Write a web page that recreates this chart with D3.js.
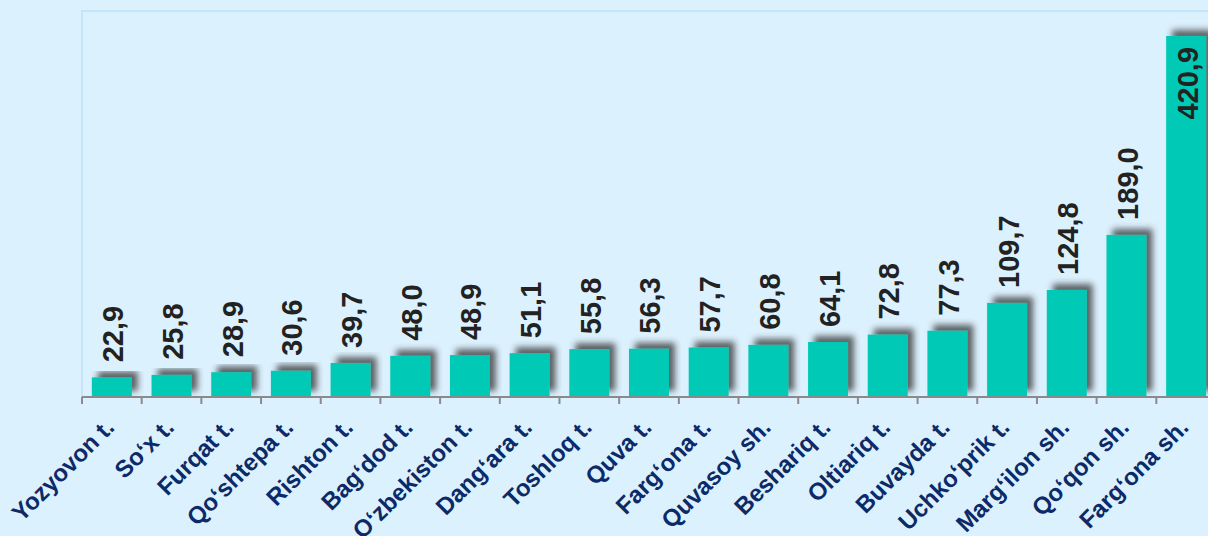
<!DOCTYPE html>
<html>
<head>
<meta charset="utf-8">
<script src="https://cdn.jsdelivr.net/npm/d3@7"></script>
<style>
  body { margin: 0; background: #dcf1fe; }
  svg { display: block; font-family: "Liberation Sans", Arial, sans-serif; }
</style>
</head>
<body>
<div id="chart"></div>
<script>
// data
var categories = ['Yozyovon t.', 'So‘x t.', 'Furqat t.', 'Qo‘shtepa t.', 'Rishton t.', 'Bag‘dod t.',
  'O‘zbekiston t.', 'Dang‘ara t.', 'Toshloq t.', 'Quva t.', 'Farg‘ona t.', 'Quvasoy sh.',
  'Beshariq t.', 'Oltiariq t.', 'Buvayda t.', 'Uchko‘prik t.', 'Marg‘ilon sh.', 'Qo‘qon sh.', 'Farg‘ona sh.'];
var values = [22.9, 25.8, 28.9, 30.6, 39.7, 48.0, 48.9, 51.1, 55.8, 56.3, 57.7, 60.8, 64.1, 72.8, 77.3, 109.7, 124.8, 189.0, 420.9];
var yMax = 450;

var W = 1208, H = 536;
var margin = {top: 11, left: 82, bottom: 139};
var plotRight = 1216;

var fmt = function(v) { return v.toFixed(1).replace('.', ','); };

var x = d3.scaleBand()
  .domain(categories)
  .range([margin.left, plotRight])
  .paddingInner(0.33)
  .paddingOuter(0.165);

var y = d3.scaleLinear()
  .domain([0, yMax])
  .range([H - margin.bottom, margin.top]);

var svg = d3.select('#chart').append('svg')
  .attr('width', W)
  .attr('height', H);

var defs = svg.append('defs');
var f = defs.append('filter').attr('id', 'shadow')
  .attr('x', '-30%').attr('y', '-30%').attr('width', '160%').attr('height', '160%');
f.append('feDropShadow')
  .attr('dx', 6).attr('dy', -6).attr('stdDeviation', 3)
  .attr('flood-color', '#333').attr('flood-opacity', 0.75);

var clip = defs.append('clipPath').attr('id', 'plotclip');
clip.append('rect')
  .attr('x', margin.left).attr('y', margin.top)
  .attr('width', plotRight - margin.left).attr('height', y(0) - margin.top);

// plot frame
svg.append('rect')
  .attr('x', margin.left).attr('y', margin.top)
  .attr('width', plotRight - margin.left).attr('height', y(0) - margin.top)
  .attr('fill', '#dcf1fe')
  .attr('stroke', '#c2e5fb').attr('stroke-width', 2);

// bars
svg.append('g').attr('clip-path', 'url(#plotclip)')
  .selectAll('rect')
  .data(values)
  .enter().append('rect')
  .attr('x', function(d, i) { return x(categories[i]); })
  .attr('width', x.bandwidth())
  .attr('y', function(d) { return y(d); })
  .attr('height', function(d) { return y(0) - y(d); })
  .attr('fill', '#00cab5')
  .attr('filter', 'url(#shadow)');

// x axis
var xAxis = svg.append('g')
  .attr('transform', 'translate(0,' + y(0) + ')');
xAxis.append('line')
  .attr('x1', margin.left).attr('x2', plotRight)
  .attr('stroke', '#8a8a8a').attr('stroke-width', 2);
var step = x.step();
xAxis.selectAll('.tick')
  .data(d3.range(categories.length + 1))
  .enter().append('line')
  .attr('x1', function(i) { return margin.left + i * step; })
  .attr('x2', function(i) { return margin.left + i * step; })
  .attr('y1', 0).attr('y2', 7)
  .attr('stroke', '#8a8a8a').attr('stroke-width', 2);

xAxis.selectAll('.lab')
  .data(categories)
  .enter().append('text')
  .attr('transform', function(d) {
    return 'translate(' + (x(d) + x.bandwidth() / 2 - 8) + ',20) rotate(-45)';
  })
  .attr('text-anchor', 'end')
  .attr('dy', '0.7em')
  .attr('fill', '#0c2a68')
  .attr('font-size', 24)
  .attr('font-weight', 'bold')
  .text(function(d) { return d; });

// value labels
var labH = 60;
svg.append('g').selectAll('text')
  .data(values)
  .enter().append('text')
  .attr('transform', function(d, i) {
    var cx = x(categories[i]) + x.bandwidth() / 2 + 1;
    var top = y(d) - 15;
    var inside = top - labH < margin.top;
    var ty = inside ? y(d) + 11 : top;
    return 'translate(' + cx + ',' + ty + ') rotate(-90)';
  })
  .attr('text-anchor', function(d) { return y(d) - 15 - labH < margin.top ? 'end' : 'start'; })
  .attr('dy', '0.36em')
  .attr('fill', '#222')
  .attr('font-family', '"Liberation Sans Narrow", "Liberation Sans", Arial, sans-serif')
  .attr('font-size', 29)
  .attr('font-weight', 'bold')
  .text(fmt);
</script>
</body>
</html>
